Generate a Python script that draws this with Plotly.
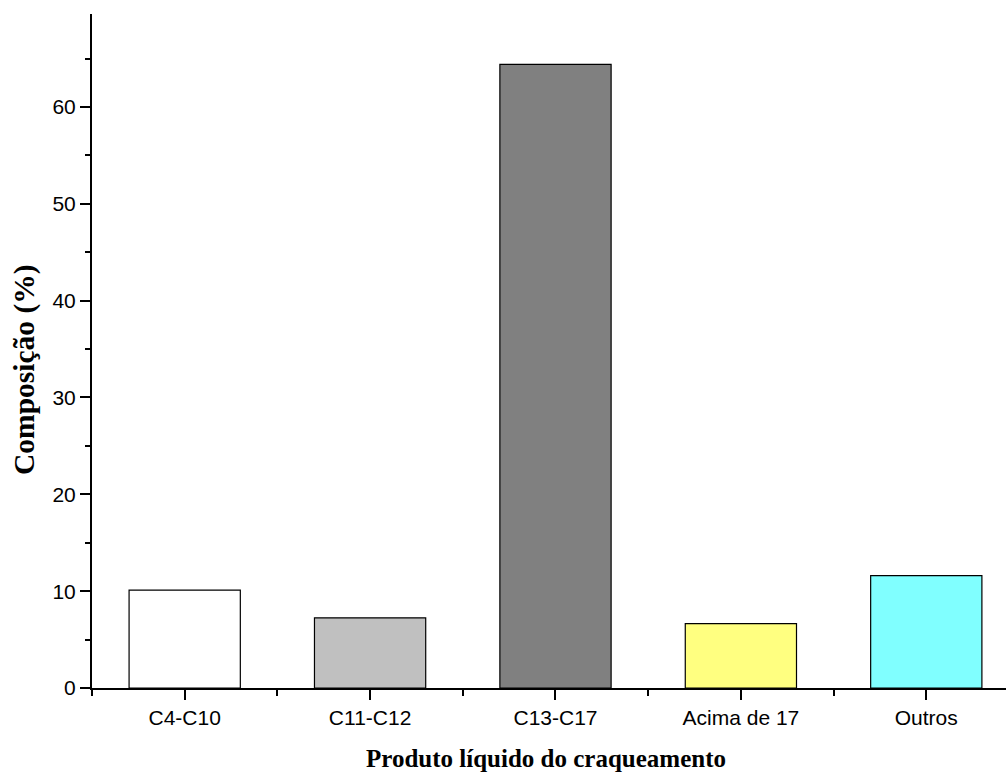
import plotly.graph_objects as go

categories = ["C4-C10", "C11-C12", "C13-C17", "Acima de 17", "Outros"]
values = [10.1, 7.25, 64.4, 6.65, 11.6]
colors = ["#FFFFFF", "#C0C0C0", "#808080", "#FFFF80", "#80FFFF"]
y_ticks = [0, 10, 20, 30, 40, 50, 60]

x_pos = list(range(len(categories)))

W, H = 1006, 774
L, R, T, B = 92, 0, 14, 86
pw, ph = W - L - R, H - T - B

fig = go.Figure()
fig.add_trace(go.Bar(
    x=x_pos, y=values, width=0.6,
    marker=dict(color=colors, line=dict(color="#000000", width=1.2)),
    showlegend=False,
))

fig.update_layout(
    width=W, height=H,
    margin=dict(l=L, r=R, t=T, b=B),
    plot_bgcolor="white", paper_bgcolor="white",
    font=dict(family="Liberation Sans, Arial", size=21, color="black"),
    xaxis=dict(
        range=[-0.5, 4.43], automargin=False,
        tickmode="array", tickvals=x_pos, ticktext=categories,
        showgrid=False, zeroline=False,
        showline=True, linecolor="black", linewidth=2,
        ticks="outside", ticklen=10, tickwidth=2, tickcolor="black",
        minor=dict(ticks="outside", ticklen=6, tickwidth=2, tickcolor="black",
                   tick0=0.5, dtick=1, showgrid=False),
    ),
    yaxis=dict(
        range=[0, 69.6], automargin=False,
        tickmode="array", tickvals=y_ticks,
        showgrid=False, zeroline=False,
        showline=True, linecolor="black", linewidth=2,
        ticks="outside", ticklen=10, tickwidth=2, tickcolor="black",
        minor=dict(ticks="outside", ticklen=5, tickwidth=2, tickcolor="black",
                   tick0=5, dtick=10, showgrid=False),
    ),
    bargap=0.4,
    annotations=[
        dict(text="<b>Composição (%)</b>", textangle=-90,
             xref="paper", yref="paper",
             x=(24 - L) / pw, y=1 - (370 - T) / ph,
             xanchor="center", yanchor="middle", showarrow=False,
             font=dict(family="Liberation Serif, Times New Roman", size=29.5)),
        dict(text="<b>Produto líquido do craqueamento</b>",
             xref="paper", yref="paper",
             x=(546 - L) / pw, y=-(758 - (T + ph)) / ph,
             xanchor="center", yanchor="middle", showarrow=False,
             font=dict(family="Liberation Serif, Times New Roman", size=25)),
    ],
)

fig.write_html("out.html", config={"displayModeBar": False},
               post_script="document.body.style.margin='0';document.body.style.overflow='hidden';")
